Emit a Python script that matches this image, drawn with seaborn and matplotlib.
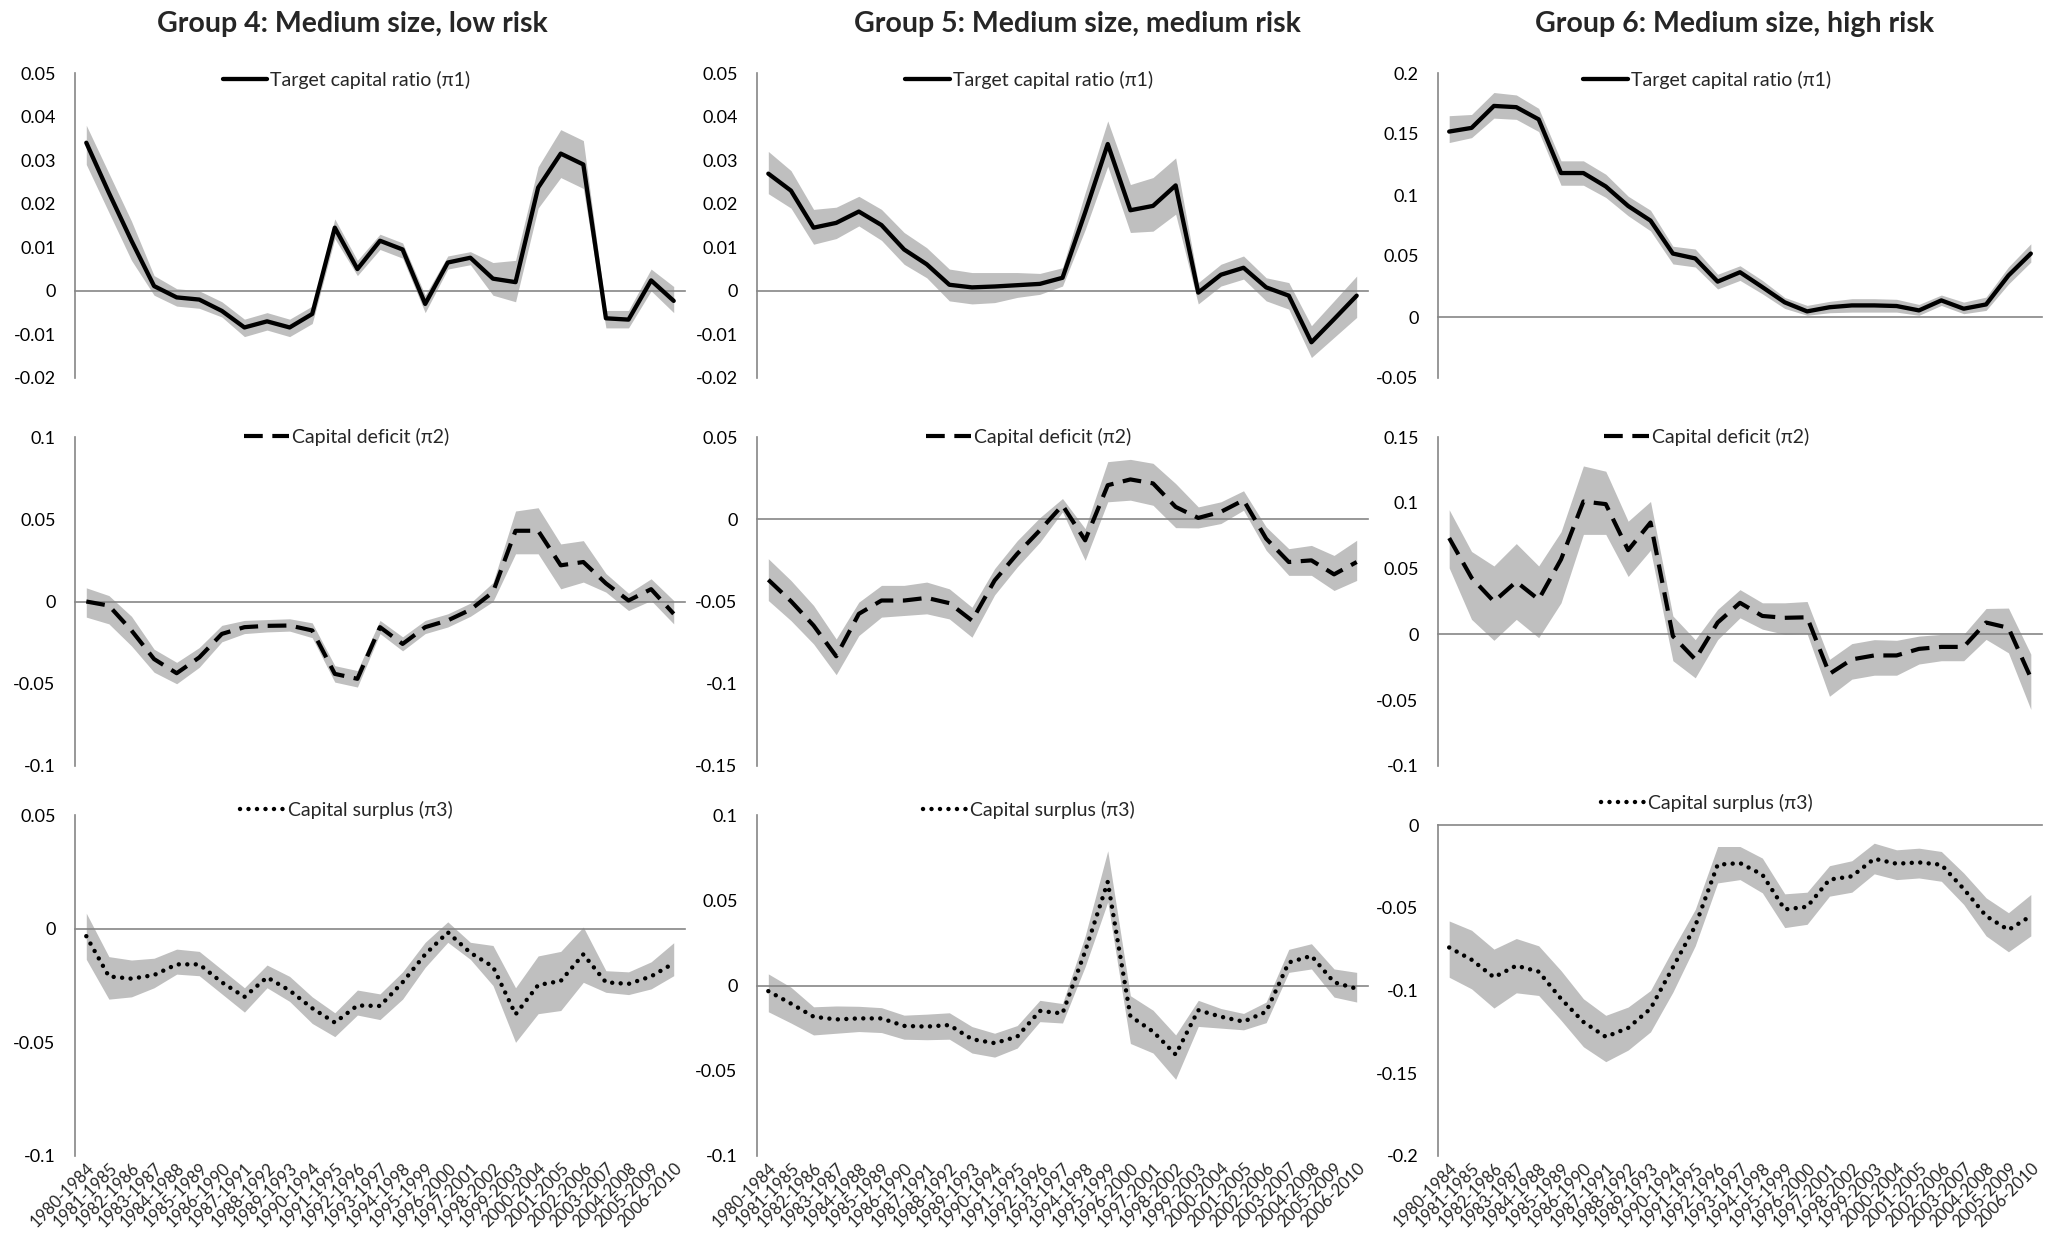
import numpy as np
import matplotlib
matplotlib.use("Agg")
import matplotlib.pyplot as plt
import seaborn as sns
from matplotlib.ticker import FuncFormatter

periods = ['1980-1984', '1981-1985', '1982-1986', '1983-1987', '1984-1988', '1985-1989',
           '1986-1990', '1987-1991', '1988-1992', '1989-1993', '1990-1994', '1991-1995',
           '1992-1996', '1993-1997', '1994-1998', '1995-1999', '1996-2000', '1997-2001',
           '1998-2002', '1999-2003', '2000-2004', '2001-2005', '2002-2006', '2003-2007',
           '2004-2008', '2005-2009', '2006-2010']

titles = ['Group 4: Medium size, low risk', 'Group 5: Medium size, medium risk',
          'Group 6: Medium size, high risk']
series_names = ['Target capital ratio (\u03c01)', 'Capital deficit (\u03c02)', 'Capital surplus (\u03c03)']

# Group 4
g4_target = [0.034, 0.0225, 0.0115, 0.0011, -0.0015, -0.002, -0.0046, -0.0084, -0.007, -0.0084, -0.0053,
             0.0145, 0.005, 0.0115, 0.0095, -0.003, 0.0065, 0.0076, 0.0028, 0.002, 0.0237, 0.0315, 0.029,
             -0.0063, -0.0066, 0.0024, -0.0023]
g4_target_lo = [0.029, 0.018, 0.007, -0.001, -0.0035, -0.004, -0.006, -0.0105, -0.009, -0.0105, -0.0075,
                0.012, 0.0035, 0.0095, 0.0075, -0.005, 0.005, 0.006, -0.001, -0.0025, 0.019, 0.026, 0.0235,
                -0.0085, -0.0085, 0.0, -0.005]
g4_target_hi = [0.038, 0.027, 0.016, 0.0035, 0.0005, 0.0, -0.0025, -0.0065, -0.005, -0.0065, -0.0035,
                0.0165, 0.007, 0.013, 0.011, -0.001, 0.008, 0.009, 0.0065, 0.007, 0.0285, 0.037, 0.0345,
                -0.0045, -0.0045, 0.005, 0.001]

g4_deficit = [0.0, -0.0025, -0.0176, -0.035, -0.0436, -0.034, -0.0197, -0.0156, -0.0148, -0.0146, -0.0176,
              -0.044, -0.047, -0.0156, -0.0258, -0.0156, -0.0115, -0.005, 0.0057, 0.043, 0.043, 0.022, 0.024,
              0.011, 0.0006, 0.0075, -0.0075]
g4_deficit_lo = [-0.0095, -0.0136, -0.027, -0.043, -0.05, -0.04, -0.0245, -0.0195, -0.0185, -0.018, -0.022,
                 -0.049, -0.052, -0.0195, -0.03, -0.0195, -0.0155, -0.009, 0.0, 0.029, 0.029, 0.0077, 0.0118,
                 0.0057, -0.0055, 0.0006, -0.0136]
g4_deficit_hi = [0.0083, 0.0036, -0.009, -0.029, -0.037, -0.028, -0.0145, -0.0115, -0.011, -0.0105, -0.013,
                 -0.039, -0.042, -0.0115, -0.0215, -0.0115, -0.0075, -0.001, 0.0115, 0.055, 0.057, 0.035, 0.037,
                 0.017, 0.005, 0.0138, 0.0006]

g4_surplus = [-0.0033, -0.021, -0.022, -0.0204, -0.0157, -0.0157, -0.0236, -0.03, -0.0214, -0.0272, -0.035,
              -0.0413, -0.0338, -0.034, -0.0236, -0.0113, -0.0016, -0.0106, -0.0167, -0.0377, -0.0248, -0.023,
              -0.0113, -0.0236, -0.0243, -0.021, -0.0152]
g4_surplus_lo = [-0.0135, -0.031, -0.03, -0.026, -0.02, -0.0207, -0.0287, -0.0367, -0.026, -0.032, -0.0417,
                 -0.0475, -0.038, -0.04, -0.031, -0.017, -0.006, -0.0135, -0.025, -0.05, -0.0374, -0.036,
                 -0.0236, -0.028, -0.029, -0.0265, -0.0207]
g4_surplus_hi = [0.0068, -0.0123, -0.0138, -0.013, -0.009, -0.01, -0.018, -0.026, -0.016, -0.021, -0.03,
                 -0.037, -0.027, -0.0287, -0.019, -0.006, 0.003, -0.006, -0.0074, -0.026, -0.012, -0.01,
                 0.0007, -0.0185, -0.019, -0.0146, -0.0062]

# Group 5
g5_target = [0.0269, 0.023, 0.0145, 0.0156, 0.0182, 0.0151, 0.0095, 0.0061, 0.0014, 0.0008, 0.001, 0.0013,
             0.0016, 0.003, 0.018, 0.0337, 0.0185, 0.0195, 0.0242, -0.0004, 0.0037, 0.0053, 0.0008, -0.0011,
             -0.0118, -0.0065, -0.0011]
g5_target_lo = [0.0223, 0.019, 0.0107, 0.012, 0.0149, 0.0116, 0.0061, 0.003, -0.0023, -0.003, -0.0027,
                -0.0015, -0.0008, 0.0011, 0.014, 0.0286, 0.0134, 0.0137, 0.0176, -0.003, 0.0011, 0.0027,
                -0.0023, -0.0042, -0.0153, -0.0107, -0.0061]
g5_target_hi = [0.032, 0.0276, 0.0187, 0.0192, 0.0217, 0.0187, 0.0134, 0.0099, 0.005, 0.0042, 0.0042,
                0.0042, 0.004, 0.0053, 0.0225, 0.039, 0.0244, 0.026, 0.0305, 0.0019, 0.0061, 0.008, 0.003,
                0.0019, -0.008, -0.0023, 0.0034]

g5_deficit = [-0.0368, -0.0498, -0.0646, -0.0833, -0.0575, -0.0494, -0.0494, -0.0478, -0.051, -0.0616,
              -0.0372, -0.021, -0.0067, 0.0085, -0.0128, 0.0207, 0.0242, 0.0218, 0.0075, 0.0008, 0.0045,
              0.0116, -0.0118, -0.026, -0.025, -0.0335, -0.026]
g5_deficit_lo = [-0.0494, -0.0616, -0.0758, -0.0945, -0.0707, -0.0595, -0.0585, -0.0575, -0.0606, -0.0717,
                 -0.046, -0.029, -0.014, 0.0045, -0.025, 0.0106, 0.0116, 0.0085, -0.0051, -0.0053, -0.0026,
                 0.0055, -0.0189, -0.0341, -0.0341, -0.0433, -0.0372]
g5_deficit_hi = [-0.024, -0.0372, -0.0524, -0.0728, -0.0504, -0.0402, -0.0402, -0.0382, -0.0423, -0.0535,
                 -0.03, -0.013, 0.001, 0.0126, -0.0057, 0.035, 0.0364, 0.034, 0.0217, 0.0075, 0.0106, 0.0173,
                 -0.0047, -0.0179, -0.0159, -0.022, -0.0128]

g5_surplus = [-0.0033, -0.0106, -0.0183, -0.0199, -0.0193, -0.0193, -0.0237, -0.0241, -0.0232, -0.0315,
              -0.0338, -0.03, -0.0149, -0.0164, 0.02, 0.0608, -0.018, -0.027, -0.0405, -0.0145, -0.0183,
              -0.0212, -0.0154, 0.0135, 0.0174, 0.0019, -0.0019]
g5_surplus_lo = [-0.0154, -0.022, -0.029, -0.028, -0.027, -0.0276, -0.0315, -0.0318, -0.0315, -0.0396,
                 -0.042, -0.0367, -0.0212, -0.022, 0.011, 0.049, -0.034, -0.0396, -0.055, -0.024, -0.025,
                 -0.026, -0.0218, 0.0077, 0.0097, -0.0068, -0.0097]
g5_surplus_hi = [0.0068, -0.001, -0.0125, -0.012, -0.0122, -0.013, -0.0174, -0.0168, -0.016, -0.0241,
                 -0.028, -0.0235, -0.0087, -0.0106, 0.029, 0.079, -0.006, -0.0145, -0.029, -0.0087, -0.0135,
                 -0.0164, -0.0097, 0.0212, 0.0245, 0.0097, 0.0077]

# Group 6
g6_target = [0.152, 0.155, 0.173, 0.172, 0.162, 0.118, 0.118, 0.107, 0.091, 0.079, 0.052, 0.048, 0.029,
             0.0367, 0.0245, 0.012, 0.0046, 0.008, 0.0095, 0.0095, 0.009, 0.0054, 0.0136, 0.0068, 0.0103,
             0.034, 0.052]
g6_target_lo = [0.143, 0.147, 0.163, 0.162, 0.152, 0.108, 0.108, 0.098, 0.083, 0.0706, 0.0435, 0.041, 0.023,
                0.03, 0.019, 0.007, 0.0014, 0.0035, 0.004, 0.004, 0.004, 0.0014, 0.0095, 0.0027, 0.0054,
                0.027, 0.045]
g6_target_hi = [0.165, 0.166, 0.184, 0.182, 0.171, 0.128, 0.128, 0.117, 0.099, 0.0875, 0.058, 0.0557, 0.035,
                0.042, 0.03, 0.016, 0.0095, 0.0128, 0.015, 0.015, 0.0145, 0.0103, 0.018, 0.0122, 0.0163,
                0.041, 0.06]

g6_deficit = [0.0732, 0.043, 0.025, 0.04, 0.0265, 0.057, 0.101, 0.099, 0.064, 0.085, -0.0013, -0.019, 0.009,
              0.024, 0.014, 0.0126, 0.013, -0.03, -0.019, -0.016, -0.016, -0.011, -0.0095, -0.0095, 0.009,
              0.005, -0.033]
g6_deficit_lo = [0.0505, 0.0114, -0.0045, 0.0114, -0.0025, 0.024, 0.076, 0.076, 0.044, 0.064, -0.02, -0.033,
                 -0.004, 0.0126, 0.004, 0.0, 0.0005, -0.047, -0.034, -0.031, -0.031, -0.0225, -0.02, -0.02,
                 -0.0038, -0.014, -0.057]
g6_deficit_hi = [0.0947, 0.063, 0.052, 0.069, 0.052, 0.078, 0.128, 0.124, 0.086, 0.101, 0.014, -0.004, 0.019,
                 0.034, 0.024, 0.024, 0.025, -0.019, -0.007, -0.004, -0.0045, -0.0013, 0.0, 0.0, 0.0197,
                 0.02, -0.015]

g6_surplus = [-0.074, -0.0814, -0.092, -0.085, -0.0886, -0.105, -0.119, -0.128, -0.1226, -0.111, -0.086,
              -0.061, -0.024, -0.023, -0.03, -0.051, -0.0494, -0.033, -0.031, -0.0204, -0.0234, -0.0226,
              -0.024, -0.0386, -0.055, -0.0634, -0.055]
g6_surplus_lo = [-0.092, -0.099, -0.1106, -0.1014, -0.103, -0.118, -0.134, -0.143, -0.136, -0.125, -0.101,
                 -0.073, -0.035, -0.033, -0.041, -0.062, -0.06, -0.043, -0.0406, -0.0295, -0.033, -0.032,
                 -0.034, -0.048, -0.067, -0.0766, -0.067]
g6_surplus_hi = [-0.058, -0.0636, -0.075, -0.0686, -0.073, -0.088, -0.105, -0.115, -0.11, -0.1, -0.075,
                 -0.051, -0.013, -0.013, -0.02, -0.0416, -0.0406, -0.0246, -0.0216, -0.011, -0.015, -0.014,
                 -0.016, -0.029, -0.044, -0.053, -0.042]

# y-axis ranges per panel (min, max, step), rows x cols
y_ranges = [[(-0.02, 0.05, 0.01), (-0.02, 0.05, 0.01), (-0.05, 0.2, 0.05)],
            [(-0.1, 0.1, 0.05), (-0.15, 0.05, 0.05), (-0.1, 0.15, 0.05)],
            [(-0.1, 0.05, 0.05), (-0.1, 0.1, 0.05), (-0.2, 0.0, 0.05)]]

panels = [[(g4_target, g4_target_lo, g4_target_hi), (g5_target, g5_target_lo, g5_target_hi),
           (g6_target, g6_target_lo, g6_target_hi)],
          [(g4_deficit, g4_deficit_lo, g4_deficit_hi), (g5_deficit, g5_deficit_lo, g5_deficit_hi),
           (g6_deficit, g6_deficit_lo, g6_deficit_hi)],
          [(g4_surplus, g4_surplus_lo, g4_surplus_hi), (g5_surplus, g5_surplus_lo, g5_surplus_hi),
           (g6_surplus, g6_surplus_lo, g6_surplus_hi)]]

sns.set_style('white')
plt.rcParams['font.family'] = ['Lato', 'DejaVu Sans']

W, H = 2046, 1245
fig = plt.figure(figsize=(W / 100, H / 100), dpi=100)

col_px = [(75, 685), (757, 1368), (1438, 2042)]
# panel top/bottom in pixels, and legend centre (pixels from top)
row_px = [[(73, 378)] * 3,
          [(437, 766)] * 3,
          [(815, 1156), (815, 1156), (825, 1156)]]
legend_px = [[80, 80, 80], [437, 437, 437], [810, 810, 803]]
title_x = [352, 1077, 1735]

grey = '#868686'
band = '#bfbfbf'
styles = [dict(linestyle='-', linewidth=3.1),
          dict(linestyle=(0, (4.5, 2.3)), linewidth=3.0),
          dict(linestyle=(0, (0.01, 1.9)), linewidth=3.2, dash_capstyle='round')]

x = np.arange(len(periods))
fmt = FuncFormatter(lambda v, p: '0' if abs(v) < 1e-9 else ('%g' % round(v, 4)))

for r in range(3):
    for c in range(3):
        x0, x1 = col_px[c]
        y0, y1 = row_px[r][c]
        ax = fig.add_axes([x0 / W, 1 - y1 / H, (x1 - x0) / W, (y1 - y0) / H])
        vals, lo, hi = panels[r][c]
        ax.fill_between(x, lo, hi, color=band, linewidth=0, zorder=1)
        sns.lineplot(x=x, y=vals, ax=ax, color='black', label=series_names[r], zorder=3, **styles[r])

        ymin, ymax, step = y_ranges[r][c]
        ax.set_ylim(ymin, ymax)
        ax.set_yticks(np.arange(ymin, ymax + step / 2, step))
        ax.yaxis.set_major_formatter(fmt)
        ax.tick_params(axis='y', length=0, pad=14, labelsize=13, labelcolor='black')
        ax.set_xlim(-0.5, len(periods) - 0.5)

        for s in ['top', 'right']:
            ax.spines[s].set_visible(False)
        ax.spines['left'].set_color(grey)
        ax.spines['left'].set_linewidth(1.2)
        ax.spines['bottom'].set_position(('data', 0))
        ax.spines['bottom'].set_color(grey)
        ax.spines['bottom'].set_linewidth(1.2)
        ax.set_xticks(np.arange(0.5, len(periods), 1))
        ax.set_xticklabels([])
        ax.tick_params(axis='x', length=6, width=1.1, color=grey, direction='out')
        ax.set_xlabel('')
        ax.set_ylabel('')

        leg_y = (y1 - legend_px[r][c]) / (y1 - y0)
        ax.legend(loc='center', bbox_to_anchor=(0.445, leg_y), frameon=False,
                  fontsize=14, handlelength=2.3, handletextpad=0.15, borderaxespad=0)

        if r == 2:
            sec = ax.secondary_xaxis('bottom')
            sec.set_xticks(x)
            sec.set_xticklabels(periods, rotation=45, ha='right', rotation_mode='anchor', fontsize=12)
            sec.tick_params(axis='x', length=0, pad=3)
            sec.spines['bottom'].set_visible(False)

for c in range(3):
    fig.text(title_x[c] / W, 1 - 24 / H, titles[c], ha='center', va='center',
             fontsize=20.5, fontweight='bold')

fig.savefig('out.png', dpi=100)
